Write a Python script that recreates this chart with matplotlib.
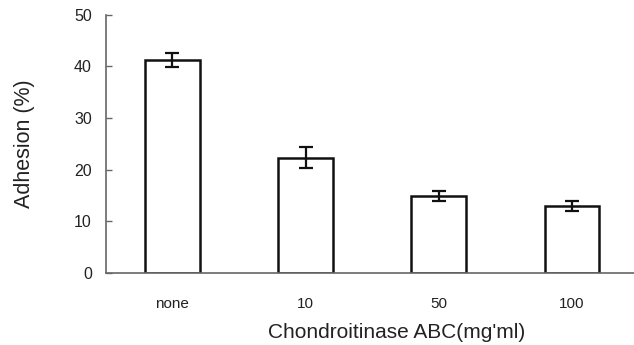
import numpy as np
import matplotlib.pyplot as plt

plt.rcParams['font.family'] = ['Liberation Sans', 'DejaVu Sans']

categories = ['none', '10', '50', '100']
adhesion = [41.2, 22.3, 14.9, 13.0]
errors = [1.4, 2.0, 0.9, 1.0]

fig = plt.figure(figsize=(6.34, 3.45), dpi=100)
ax = fig.add_axes([0.167, 0.209, 0.84, 0.748])

x = np.arange(len(categories))
ax.bar(x, adhesion, width=0.41, color='white', edgecolor='#111111', linewidth=1.8,
       yerr=errors, capsize=5, error_kw=dict(ecolor='#111111', elinewidth=1.6, capthick=1.6))

ax.set_xlim(-0.5, 3.5)
ax.set_ylim(0, 50)
ax.set_yticks([0, 10, 20, 30, 40, 50])
ax.set_xticks(x)
ax.set_xticklabels(categories)

for s in ['top', 'right']:
    ax.spines[s].set_visible(False)
for s in ['left', 'bottom']:
    ax.spines[s].set_color('#666666')
    ax.spines[s].set_linewidth(1.2)

ax.tick_params(axis='y', direction='in', length=4, width=1, color='#666666',
               pad=10, labelsize=11.5, labelcolor='#222222')
ax.tick_params(axis='x', length=0, pad=17, labelsize=11, labelcolor='#222222')

ax.set_ylabel('Adhesion (%)', fontsize=15.5, color='#222222', labelpad=28)
ax.set_xlabel("Chondroitinase ABC(mg'ml)", fontsize=15, color='#222222', labelpad=9)
ax.xaxis.label.set_x(0.546)

fig.savefig('out.png', dpi=100)
